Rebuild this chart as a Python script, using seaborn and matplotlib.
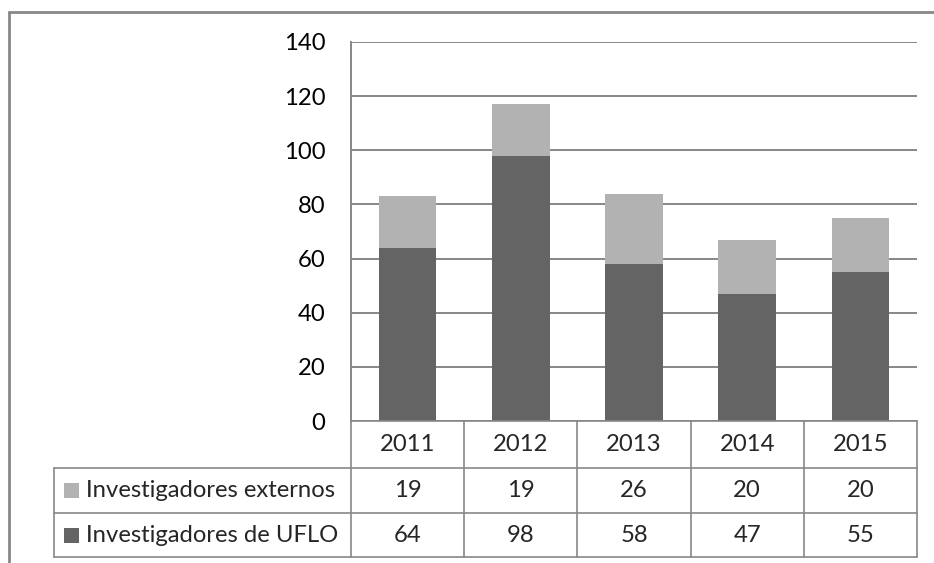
import numpy as np
import pandas as pd
import seaborn as sns
import matplotlib.pyplot as plt
from matplotlib.lines import Line2D
from matplotlib.patches import Rectangle
import matplotlib.transforms as mtransforms

# data
years = ['2011', '2012', '2013', '2014', '2015']
ufl = [64, 98, 58, 47, 55]
externos = [19, 19, 26, 20, 20]
series_names = ['Investigadores externos', 'Investigadores de UFLO']

dark = '#646464'
light = '#b2b2b2'
gray = '#878787'
fs = 17.2

sns.set_style('white')
plt.rcParams['font.family'] = ['Lato', 'DejaVu Sans']
plt.rcParams['font.size'] = fs

W, H = 934, 563
fig = plt.figure(figsize=(W / 100, H / 100), dpi=100)

# plot area in pixels
x0, x1, ytop, ybot = 351, 917, 42, 421
ax = fig.add_axes([x0 / W, (H - ybot) / H, (x1 - x0) / W, (ybot - ytop) / H])

df = pd.DataFrame({'year': years, 'ufl': ufl, 'ext': externos})
df['total'] = df['ufl'] + df['ext']

# stacked bars: total in light grey, UFLO over it in dark grey
sns.barplot(data=df, x='year', y='total', color=light, saturation=1, width=0.51,
            linewidth=0, ax=ax)
sns.barplot(data=df, x='year', y='ufl', color=dark, saturation=1, width=0.51,
            linewidth=0, ax=ax)

ax.set_ylim(0, 140)
ax.set_xlim(-0.5, len(years) - 0.5)
ax.set_yticks(np.arange(0, 141, 20))
ax.yaxis.grid(True, color=gray, linewidth=1.4)
ax.set_axisbelow(True)
ax.set_xlabel('')
ax.set_ylabel('')
ax.tick_params(axis='x', length=0, labelbottom=False)
ax.tick_params(axis='y', length=0, pad=18.5, labelsize=fs, labelcolor='black')
for s in ['top', 'right', 'bottom']:
    ax.spines[s].set_visible(False)
ax.spines['left'].set_color(gray)
ax.spines['left'].set_linewidth(1.4)

# data table under the plot: x in category units, y in axes fraction
trans = mtransforms.blended_transform_factory(ax.transData, ax.transAxes)
ph = ybot - ytop
rows = [0, -47 / ph, -92 / ph, -136 / ph]
cat_w = (x1 - x0) / len(years)
left_x = -0.5 - (x0 - 54) / cat_w
right_x = len(years) - 0.5

def hline(xa, xb, y):
    ax.add_line(Line2D([xa, xb], [y, y], transform=trans, color=gray, lw=1.2, clip_on=False))

def vline(x, ya, yb):
    ax.add_line(Line2D([x, x], [ya, yb], transform=trans, color=gray, lw=1.2, clip_on=False))

hline(-0.5, right_x, rows[0])
hline(left_x, right_x, rows[1])
hline(left_x, right_x, rows[2])
hline(left_x, right_x, rows[3])
for i in range(len(years) + 1):
    vline(i - 0.5, rows[0], rows[3])
vline(left_x, rows[1], rows[3])

def mid(a, b):
    return (a + b) / 2

for i, yr in enumerate(years):
    ax.text(i, mid(rows[0], rows[1]), yr, transform=trans, ha='center', va='center', fontsize=fs)
    ax.text(i, mid(rows[1], rows[2]), str(externos[i]), transform=trans, ha='center', va='center', fontsize=fs)
    ax.text(i, mid(rows[2], rows[3]), str(ufl[i]), transform=trans, ha='center', va='center', fontsize=fs)

# legend keys inside the table
sq = 15 / cat_w
for r, (name, col) in enumerate(zip(series_names, [light, dark])):
    yc = mid(rows[r + 1], rows[r + 2])
    ax.add_patch(Rectangle((left_x + 10 / cat_w, yc - 7.5 / ph), sq, 15 / ph, transform=trans,
                           facecolor=col, edgecolor='none', clip_on=False))
    ax.text(left_x + 32 / cat_w, yc, name, transform=trans, ha='left', va='center', fontsize=fs)

# outer chart border (top and left visible in the crop)
fig.add_artist(Line2D([9 / W, 1], [1 - 12 / H, 1 - 12 / H], transform=fig.transFigure, color=gray, lw=2))
fig.add_artist(Line2D([9 / W, 9 / W], [0, 1 - 12 / H], transform=fig.transFigure, color=gray, lw=2))

fig.savefig('out.png', dpi=100)
